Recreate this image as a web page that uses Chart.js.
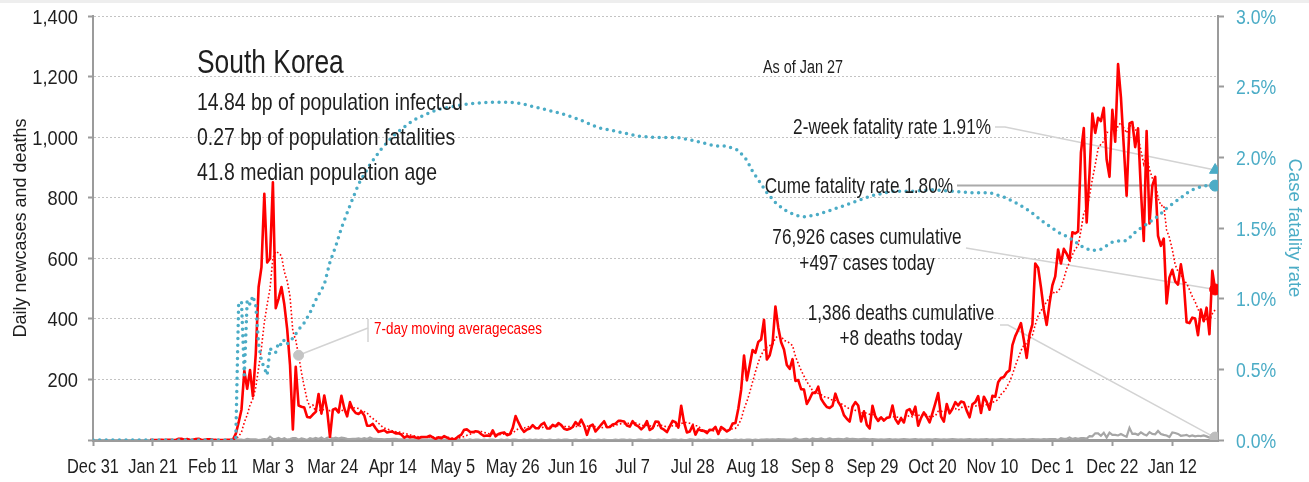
<!DOCTYPE html>
<html>
<head>
<meta charset="utf-8">
<title>South Korea</title>
<script src="https://cdn.jsdelivr.net/npm/chart.js@4.4.1/dist/chart.umd.min.js"></script>
<style>
  html, body { margin: 0; padding: 0; background: #fff; }
  #wrap { position: relative; width: 1309px; height: 482px; }
</style>
</head>
<body>
<div id="wrap"><canvas id="koreaChart"></canvas></div>
<script>
const FONT = "'Liberation Sans', Arial, sans-serif";
const TEAL = "#4bacc6";
const RED = "#ff0000";
const AXIS_GRAY = "#9b9b9b";
const TEXT = "#1e1e1e";

// x axis counts days since Dec 31, 2019
const tickDays = [0, 21, 42, 63, 84, 105, 126, 147, 168, 189, 210, 231, 252, 273, 294, 315, 336, 357, 378];
const tickLabels = ["Dec 31", "Jan 21", "Feb 11", "Mar 3", "Mar 24", "Apr 14", "May 5", "May 26", "Jun 16",
  "Jul 7", "Jul 28", "Aug 18", "Sep 8", "Sep 29", "Oct 20", "Nov 10", "Dec 1", "Dec 22", "Jan 12"];

// daily new cases, day 0 .. day 393 (Jan 27)
const dailyCases = [
  0,0,0,0,0,0,0,0,0,0, 0,0,0,0,0,0,0,0,0,0,
  1,0,0,0,1,0,1,1,0,0, 4,4,1,3,0,1,3,4,0,0, 2,2,1,0,0,0,0,1,1,1,
  20,58,100,229,169,231,144,284,505,571, 813,586,599,851,435,467,505,448,367,248,
  35,242,114,110,107,76,74,84,93,152, 87,147,98,10,
  100,104,91,146,105,78,125,101,89,86,
  94,81,47,47,53,39,27,30,32,25,
  27,27,22,22,18,8,13,9,11,8,
  6,10,10,10,14,9,4,9,6,13,
  8,3,2,4,12,18,34,35,27,26,
  29,27,19,13,15,13,32,12,20,23,
  25,16,19,40,79,58,39,27,35,38,
  49,39,39,51,57,38,38,50,45,56,
  49,37,34,37,43,59,49,67,48,17,
  46,51,28,39,51,62,42,43,51,54,
  63,63,61,48,44,62,50,45,35,44,
  62,33,39,61,60,39,34,26,45,63,
  59,41,113,58,25,28,48,18,36,31,
  30,23,34,33,43,20,43,36,28,34,
  54,56,103,166,279,197,246,297,288,324,
  332,397,266,280,320,441,371,323,299,248,
  235,267,195,198,168,167,119,136,156,155,
  176,136,121,109,106,113,153,126,110,82,
  70,61,110,125,114,61,95,50,38,113,
  77,63,75,64,73,75,114,69,54,72,
  58,97,102,84,110,47,73,91,76,58,
  89,121,155,77,61,119,88,103,125,114,
  127,124,97,75,118,125,145,89,143,126,
  100,146,143,191,205,208,223,230,313,343,
  363,386,330,271,349,382,583,569,504,430,
  380,451,511,540,629,583,631,615,594,686,
  682,689,950,1030,718,880,1078,1014,1064,1053,
  1097,926,869,1090,985,1241,1132,970,807,1045,
  1050,967,1029,824,657,1020,715,840,869,674,
  641,665,451,537,562,524,513,580,520,389,
  386,404,401,346,431,392,437,349,559,497
];

// daily deaths, same days
const dailyDeaths = [
  0,0,0,0,0,0,0,0,0,0, 0,0,0,0,0,0,0,0,0,0, 0,0,0,0,0,0,0,0,0,0,
  0,0,0,0,0,0,0,0,0,0, 0,0,0,0,0,0,0,0,0,0,
  0,1,1,0,4,2,2,2,0,1, 3,1,11,4,3,7,2,6,1,3, 6,6,1,5,3,0,6,3,7,3, 8,2,7,9,
  5,8,5,8,6,4,3,4,4,5, 3,6,3,8,4,4,3,3,2,3, 3,4,4,2,2,2,1,2,1,2, 0,2,1,1,2,1,2,
  2,2,1,2,1,1,0,2,0,1, 0,2,0,1,1,0,1,0,1,1, 0,0,1,0,1,0,1,1,0,0, 1,
  0,1,0,1,0,1,0,0,1,0, 0,1,0,1,1,0,0,1,0,0, 1,0,1,0,0,1,0,1,0,0,
  0,1,0,1,1,0,1,0,0,1, 1,0,0,1,0,0,1,0,1,0, 0,1,1,0,1,0,0,2,1,0, 1,
  0,1,0,1,0,0,1,0,0,1, 0,0,1,0,1,0,1,1,0,1, 0,1,1,2,1,2,1,3,2,2, 1,
  1,2,5,2,1,3,4,1,5,3, 3,5,2,3,5,2,3,4,3,2, 5,3,4,3,2,3,4,3,2,3,
  2,1,2,1,2,3,1,2,1,2, 3,2,1,2,3,1,2,1,2,2, 1,3,2,1,2,1,2,3,2,1, 2,
  1,2,3,1,2,1,2,2,3,1, 2,1,2,3,2,1,3,2,1,2, 2,3,1,2,3,2,2,1,3,2,
  3,3,3,0,6,4,4,8,3,6, 4,6,6,5,13,12,22,22,14,24, 8,24,17,17,15,20,15,11,40,20, 21,
  17,25,19,15,26,20,19,30,20,17, 15,10,25,23,20,14,15,17,12,15, 12,14,13,15,12,8,9,8
];

// cumulative case fatality rate (%), right axis
const cfrDays = [0, 50, 51, 52, 53, 54, 55, 56, 57, 58, 59, 60, 61, 62, 63, 64, 65, 66, 67, 68,
  70, 72, 74, 76, 78, 81, 83, 85, 87, 90, 93, 97, 101, 105, 108, 112, 116, 121, 126, 132,
  139, 146, 150, 154, 158, 164, 170, 177, 184, 191, 198, 205, 210, 214, 218, 222, 226, 229, 231, 234,
  236, 239, 242, 246, 249, 253, 259, 266, 273, 280, 287, 294, 301, 308, 314, 319, 324, 328, 333, 338,
  342, 347, 350, 353, 357, 360, 362, 365, 367, 370, 372, 374, 376, 378, 380, 382, 384, 386, 388, 390, 393];
const cfrRates = [0, 0, 0.96, 0.98, 0.46, 0.99, 0.96, 1.02, 0.95, 0.68, 0.56, 0.51, 0.46, 0.65, 0.62, 0.62, 0.69, 0.67, 0.71, 0.68,
  0.72, 0.78, 0.83, 0.90, 0.99, 1.10, 1.26, 1.37, 1.50, 1.66, 1.81, 1.95, 2.06, 2.15, 2.20, 2.26, 2.30, 2.34, 2.36, 2.38,
  2.39, 2.39, 2.38, 2.36, 2.34, 2.31, 2.27, 2.21, 2.18, 2.15, 2.14, 2.14, 2.12, 2.10, 2.08, 2.08, 2.05, 1.98, 1.90, 1.81,
  1.75, 1.68, 1.63, 1.59, 1.58, 1.59, 1.63, 1.68, 1.73, 1.76, 1.76, 1.77, 1.76, 1.75, 1.75, 1.72, 1.67, 1.62, 1.54, 1.47,
  1.43, 1.36, 1.34, 1.35, 1.40, 1.41, 1.41, 1.47, 1.50, 1.54, 1.57, 1.60, 1.64, 1.67, 1.70, 1.73, 1.76, 1.78, 1.79, 1.80, 1.80];

const firstCaseDay = 20;
const lastDay = 393;
const twoWeekRate = 1.91;
const cumeRate = 1.80;
const maMarkerDay = 72;

function movingAverage(values, n) {
  return values.map((v, i) => {
    if (i < n - 1) return null;
    let sum = 0;
    for (let k = i - n + 1; k <= i; k++) sum += values[k];
    return sum / n;
  });
}

const avgCases = movingAverage(dailyCases, 7);

function toPoints(values, from) {
  const pts = [];
  for (let i = from; i < values.length; i++) {
    if (values[i] !== null) pts.push({ x: i, y: values[i] });
  }
  return pts;
}

const casesPts = toPoints(dailyCases, firstCaseDay);
const avgPts = toPoints(avgCases, firstCaseDay);
const deathPts = toPoints(dailyDeaths, 0);
const cfrPts = cfrDays.map((d, i) => ({ x: d, y: cfrRates[i] }));

// narrow type: regular face squeezed horizontally
function drawText(ctx, text, x, y, o) {
  ctx.save();
  ctx.font = `${o.size}px ${FONT}`;
  ctx.fillStyle = o.color || TEXT;
  ctx.textAlign = o.align || "left";
  ctx.textBaseline = o.baseline || "alphabetic";
  ctx.translate(x, y);
  if (o.rotate) ctx.rotate(o.rotate);
  ctx.scale(o.sx === undefined ? 0.8 : o.sx, 1);
  ctx.fillText(text, 0, 0);
  ctx.restore();
}

const notes = {
  id: "notes",
  beforeDraw(chart) {
    const ctx = chart.ctx;
    ctx.save();
    ctx.fillStyle = "#eeeeee";
    ctx.fillRect(0, 0, chart.width, 3);
    ctx.restore();
  },
  beforeDatasetsDraw(chart) {
    const { ctx, scales } = chart;
    const xEnd = scales.x.getPixelForValue(lastDay);
    const yTwoWeek = scales.y1.getPixelForValue(twoWeekRate);
    const yCume = scales.y1.getPixelForValue(cumeRate);
    const yCases = scales.y.getPixelForValue(dailyCases[lastDay]);
    const yDeaths = scales.y.getPixelForValue(dailyDeaths[lastDay]);
    const xMa = scales.x.getPixelForValue(maMarkerDay);
    const yMa = scales.y.getPixelForValue(avgCases[maMarkerDay]);

    ctx.save();
    ctx.lineWidth = 1.5;
    ctx.strokeStyle = "#d3d3d3";
    const poly = (pts) => {
      ctx.beginPath();
      ctx.moveTo(pts[0][0], pts[0][1]);
      for (let i = 1; i < pts.length; i++) ctx.lineTo(pts[i][0], pts[i][1]);
      ctx.stroke();
    };
    poly([[995, 127], [1005, 127], [xEnd, yTwoWeek]]);
    poly([[966, 248], [xEnd, yCases]]);
    poly([[1000, 325], [1008, 325], [xEnd, yDeaths]]);
    poly([[xMa, yMa], [368, 328]]);
    poly([[368, 319], [368, 342]]);

    ctx.lineWidth = 2;
    ctx.strokeStyle = "#aaaaaa";
    poly([[957, yCume], [xEnd, yCume]]);
    ctx.restore();
  },
  afterDraw(chart) {
    const { ctx, scales } = chart;

    // tick labels
    scales.x.ticks.forEach((t) => {
      const label = tickLabels[tickDays.indexOf(t.value)];
      drawText(ctx, label, scales.x.getPixelForValue(t.value), 473, { size: 20.5, align: "center", sx: 0.8 });
    });
    scales.y.ticks.forEach((t) => {
      if (t.value === 0) return;
      drawText(ctx, t.value.toLocaleString("en-US"), 78, scales.y.getPixelForValue(t.value) + 7.5,
        { size: 21, align: "right", sx: 0.87 });
    });
    scales.y1.ticks.forEach((t) => {
      drawText(ctx, t.value.toFixed(1) + "%", 1236, scales.y1.getPixelForValue(t.value) + 7.5,
        { size: 21, color: TEAL, sx: 0.84 });
    });

    // axis titles
    const midY = (chart.chartArea.top + chart.chartArea.bottom) / 2;
    drawText(ctx, "Daily newcases and deaths", 21, midY,
      { size: 18, align: "center", baseline: "middle", rotate: -Math.PI / 2, sx: 1 });
    drawText(ctx, "Case fatality rate", 1294, midY,
      { size: 18.5, align: "center", baseline: "middle", rotate: Math.PI / 2, sx: 1, color: TEAL });

    // headline block
    drawText(ctx, "South Korea", 197, 73, { size: 33 });
    drawText(ctx, "14.84 bp of population infected", 197, 110, { size: 24, sx: 0.81 });
    drawText(ctx, "0.27 bp of population fatalities", 197, 145, { size: 24, sx: 0.81 });
    drawText(ctx, "41.8 median population age", 197, 180, { size: 24, sx: 0.81 });
    drawText(ctx, "As of Jan 27", 763, 73, { size: 18 });

    // end-of-series notes
    drawText(ctx, "2-week fatality rate 1.91%", 991, 134, { size: 21.5, align: "right" });
    drawText(ctx, "Cume fatality rate 1.80%", 953, 193, { size: 21.5, align: "right" });
    drawText(ctx, "76,926 cases cumulative", 867, 244, { size: 21.5, align: "center" });
    drawText(ctx, "+497 cases today", 867, 270, { size: 21.5, align: "center" });
    drawText(ctx, "1,386 deaths cumulative", 901, 320, { size: 21.5, align: "center" });
    drawText(ctx, "+8 deaths today", 901, 345, { size: 21.5, align: "center" });

    drawText(ctx, "7-day moving averagecases", 374, 334, { size: 17, color: RED, sx: 0.79 });
  }
};

Chart.defaults.font.family = FONT;

const ctx = document.getElementById("koreaChart").getContext("2d");
const koreaChart = new Chart(ctx, {
  type: "line",
  data: {
    datasets: [
      {
        label: "cases today",
        data: [{ x: lastDay, y: dailyCases[lastDay] }],
        yAxisID: "y",
        showLine: false,
        pointRadius: 5.5,
        pointBackgroundColor: RED,
        pointBorderColor: RED,
        order: 0
      },
      {
        label: "deaths today",
        data: [{ x: lastDay, y: dailyDeaths[lastDay] }],
        yAxisID: "y",
        showLine: false,
        pointRadius: 5.5,
        pointBackgroundColor: "#bdbdbd",
        pointBorderColor: "#bdbdbd",
        order: 0
      },
      {
        label: "average marker",
        data: [{ x: maMarkerDay, y: avgCases[maMarkerDay] }],
        yAxisID: "y",
        showLine: false,
        pointRadius: 5,
        pointBackgroundColor: "#c4c4c4",
        pointBorderColor: "#c4c4c4",
        order: 0
      },
      {
        label: "2-week rate",
        data: [{ x: lastDay, y: twoWeekRate }],
        yAxisID: "y1",
        showLine: false,
        pointStyle: "triangle",
        pointRadius: 6.5,
        pointBackgroundColor: TEAL,
        pointBorderColor: TEAL,
        order: 0
      },
      {
        label: "cume rate",
        data: [{ x: lastDay, y: cumeRate }],
        yAxisID: "y1",
        showLine: false,
        pointRadius: 5.5,
        pointBackgroundColor: TEAL,
        pointBorderColor: TEAL,
        order: 0
      },
      {
        label: "Case fatality rate",
        data: cfrPts,
        yAxisID: "y1",
        borderColor: TEAL,
        borderWidth: 3.5,
        borderDash: [0, 6.6],
        borderCapStyle: "round",
        pointRadius: 0,
        tension: 0,
        order: 1
      },
      {
        label: "7-day moving average cases",
        data: avgPts,
        yAxisID: "y",
        borderColor: RED,
        borderWidth: 1.6,
        borderDash: [1.6, 2.2],
        pointRadius: 0,
        tension: 0,
        order: 2
      },
      {
        label: "Daily new cases",
        data: casesPts,
        yAxisID: "y",
        borderColor: RED,
        borderWidth: 2.6,
        borderJoinStyle: "round",
        pointRadius: 0,
        tension: 0,
        order: 3
      },
      {
        label: "Daily deaths",
        data: deathPts,
        yAxisID: "y",
        borderColor: "#a6a6a6",
        borderWidth: 2.2,
        pointRadius: 0,
        tension: 0,
        order: 4
      }
    ]
  },
  options: {
    responsive: true,
    maintainAspectRatio: false,
    animation: false,
    events: [],
    layout: { padding: { top: 16, left: 0, right: 0, bottom: 0 } },
    plugins: {
      legend: { display: false },
      tooltip: { enabled: false }
    },
    scales: {
      x: {
        type: "linear",
        min: 0,
        max: 394,
        afterFit: (s) => { s.height = 42; },
        afterBuildTicks: (s) => { s.ticks = tickDays.map((v) => ({ value: v })); },
        ticks: { display: false },
        grid: { drawOnChartArea: false, drawTicks: true, tickLength: 6, tickColor: AXIS_GRAY, tickWidth: 2 },
        border: { color: AXIS_GRAY, width: 3 }
      },
      y: {
        position: "left",
        min: 0,
        max: 1400,
        afterFit: (s) => { s.width = 93; },
        ticks: { display: false, stepSize: 200 },
        grid: { color: "#c3c3c3", lineWidth: 1, drawTicks: true, tickLength: 5, tickColor: AXIS_GRAY, tickWidth: 2 },
        border: { color: AXIS_GRAY, width: 2, dash: [2, 2] }
      },
      y1: {
        position: "right",
        min: 0,
        max: 3,
        afterFit: (s) => { s.width = 91; },
        ticks: { display: false, stepSize: 0.5 },
        grid: { drawOnChartArea: false, drawTicks: true, tickLength: 6, tickColor: AXIS_GRAY, tickWidth: 2 },
        border: { color: AXIS_GRAY, width: 2 }
      }
    }
  },
  plugins: [notes]
});
</script>
</body>
</html>
